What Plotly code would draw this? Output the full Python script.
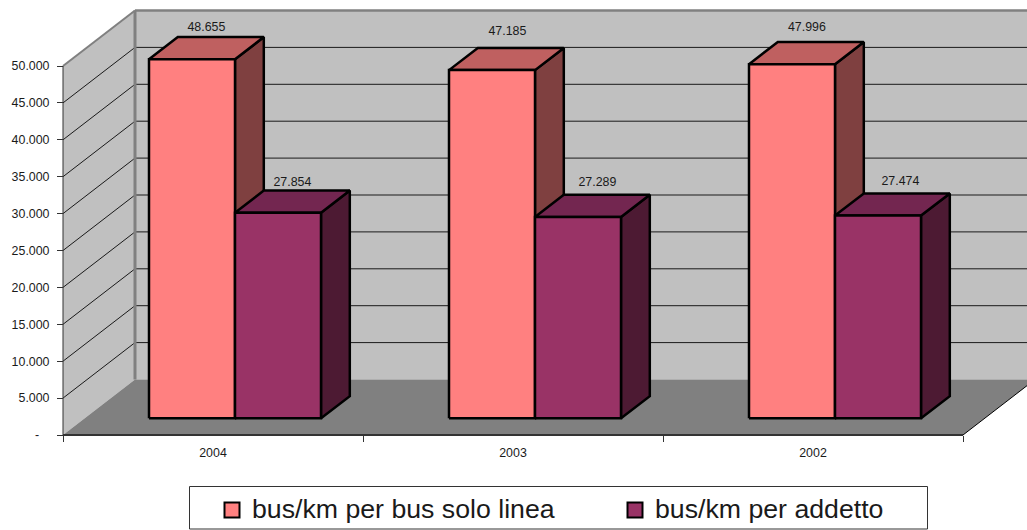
import plotly.graph_objects as go

# Chart values
years = ["2004", "2003", "2002"]
bus_linea = [48655, 47185, 47996]
bus_addetto = [27854, 27289, 27474]
series_names = ["bus/km per bus solo linea", "bus/km per addetto"]
y_ticks = [0, 5000, 10000, 15000, 20000, 25000, 30000, 35000, 40000, 45000, 50000]
y_tick_text = ["-\u00a0\u00a0\u00a0", "5.000", "10.000", "15.000", "20.000", "25.000",
               "30.000", "35.000", "40.000", "45.000", "50.000"]


def it_number(v):
    return f"{v:,}".replace(",", ".")


# Page geometry and the oblique projection used for the pseudo-3D box
W, H = 1027, 530
X0, CAT_PX = 63, 300          # left wall front edge, pixels per category
Y0, PX_PER_UNIT = 435, 0.00738
DX = 72 / CAT_PX              # depth shift in category units
DY = 55.5 / PX_PER_UNIT       # depth shift in value units
BAR_W = 86 / CAT_PX
BAR_OFFSET = 64.4 / CAT_PX
D0, D1 = 0.3, 0.7             # bar extent along the depth axis
LABEL_LIFT = 4                # clearance above the top face, pixels
# Per-label placement tweaks in pixels (right, up), bar by bar
LABEL_NUDGE = [(0, -0.7), (0, -3), (1, 6), (5, 2), (0.5, 4), (8, 1)]
N = len(years)
TOP = y_ticks[-1]

FILLS = [("#FF8080", "#BF6060", "#7F4040"), ("#993366", "#732650", "#4D1A33")]
WALL, FLOOR = "#C0C0C0", "#808080"
EDGE = 2.5


def pt(x, v, d=0.0):
    return x + d * DX, v + d * DY


def poly(points, fill, line_color="rgba(0,0,0,0)", width=0):
    xs, ys = zip(*(points + points[:1]))
    return go.Scatter(x=xs, y=ys, mode="lines", fill="toself", fillcolor=fill,
                      line=dict(color=line_color, width=width), hoverinfo="skip",
                      showlegend=False)


def path(points, color, width):
    xs, ys = zip(*points)
    return go.Scatter(x=xs, y=ys, mode="lines", line=dict(color=color, width=width),
                      hoverinfo="skip", showlegend=False)


fig = go.Figure()

# Walls and floor
fig.add_trace(poly([pt(0, 0, 0), pt(0, 0, 1), pt(0, TOP, 1), pt(0, TOP, 0)], WALL))
fig.add_trace(poly([pt(0, 0, 1), pt(N, 0, 1), pt(N, TOP, 1), pt(0, TOP, 1)], WALL))
fig.add_trace(poly([pt(0, 0, 0), pt(N, 0, 0), pt(N, 0, 1), pt(0, 0, 1)], FLOOR))

# Gridlines on the side and back walls
for v in y_ticks[1:-1]:
    fig.add_trace(path([pt(0, v, 0), pt(0, v, 1), pt(N, v, 1)], "#1a1a1a", 1))

# Wall edges
fig.add_trace(path([pt(0, 0, 1), pt(0, TOP, 1)], "#808080", 3))
fig.add_trace(path([pt(0, TOP, 1), pt(N, TOP, 1)], "#808080", 2.5))
fig.add_trace(path([pt(0, TOP, 0), pt(0, TOP, 1)], "#808080", 2))
fig.add_trace(path([pt(N, 0, 0), pt(N, 0, 1)], "#000000", 1))

# Bars: each one is a side face, a top face and a front face
label_x, label_y, label_text = [], [], []
for i in range(N):
    for s, values in enumerate((bus_linea, bus_addetto)):
        v = values[i]
        x0 = i + BAR_OFFSET + s * BAR_W
        x1 = x0 + BAR_W
        front, top, side = FILLS[s]
        fig.add_trace(poly([pt(x1, 0, D0), pt(x1, 0, D1), pt(x1, v, D1), pt(x1, v, D0)],
                           side, "#000000", EDGE))
        fig.add_trace(poly([pt(x0, v, D0), pt(x1, v, D0), pt(x1, v, D1), pt(x0, v, D1)],
                           top, "#000000", EDGE))
        fig.add_trace(poly([pt(x0, 0, D0), pt(x1, 0, D0), pt(x1, v, D0), pt(x0, v, D0)],
                           front, "#000000", EDGE))
        nudge_x, nudge_y = LABEL_NUDGE[len(label_x)]
        lx, _ = pt((x0 + x1) / 2, v, (D0 + D1) / 2)
        label_x.append(lx + nudge_x / CAT_PX)
        label_y.append(pt(x0, v, D1)[1] + (LABEL_LIFT + nudge_y) / PX_PER_UNIT)
        label_text.append(it_number(v))

fig.add_trace(go.Scatter(x=label_x, y=label_y, text=label_text, mode="text",
                         textposition="top center", hoverinfo="skip", showlegend=False,
                         textfont=dict(family="Liberation Sans", size=12.4, color="#1a1a1a")))

# Axis lines
fig.add_trace(path([(0, 0), (0, TOP)], "#333333", 1))
fig.add_trace(path([(0, 0), (N, 0)], "#333333", 2))

# Legend swatches, one legend per series so each entry can be placed on its own.
# The larger span size keeps the legend row short enough to sit low in its frame.
for name, (front, _, _), legend_id in zip(series_names, FILLS, ("legend", "legend2")):
    fig.add_trace(go.Scatter(x=[None], y=[None], mode="markers",
                             name=f'<span style="font-size:26.7px">{name}</span>',
                             legend=legend_id,
                             marker=dict(symbol="square", size=15, color=front,
                                         line=dict(color="#000000", width=2))))

legend_style = dict(orientation="v", yanchor="bottom", y=1 - 529.5 / H, xanchor="left",
                    bgcolor="rgba(0,0,0,0)", borderwidth=0,
                    itemclick=False, itemdoubleclick=False,
                    font=dict(size=20, color="#1a1a1a"), itemwidth=30)

fig.update_layout(
    width=W, height=H, autosize=False,
    margin=dict(l=0, r=0, t=0, b=0),
    paper_bgcolor="#FFFFFF", plot_bgcolor="#FFFFFF",
    font=dict(family="Liberation Sans", color="#1a1a1a"),
    xaxis=dict(range=[-X0 / CAT_PX, (W - X0) / CAT_PX], anchor="free",
               position=(H - Y0) / H, showgrid=False, zeroline=False, showline=False,
               tickmode="array", tickvals=[i + 0.5 for i in range(N)], ticktext=years,
               ticks="", ticklabelstandoff=9, tickfont=dict(size=12.4),
               minor=dict(tickmode="array", tickvals=list(range(N + 1)), ticks="outside",
                          ticklen=6, tickcolor="#333333", tickwidth=1, showgrid=False)),
    yaxis=dict(range=[(Y0 - H) / PX_PER_UNIT, Y0 / PX_PER_UNIT], anchor="free",
               position=X0 / W, showgrid=False, zeroline=False, showline=False,
               tickmode="array", tickvals=y_ticks, ticktext=y_tick_text,
               ticks="outside", ticklen=6, tickcolor="#333333", tickwidth=1,
               ticklabelstandoff=5, tickfont=dict(size=12.4)),
    shapes=[dict(type="rect", xref="paper", yref="paper", layer="above",
                 x0=189.5 / W, x1=927.5 / W, y0=1 - 529 / H, y1=1 - 486.5 / H,
                 line=dict(color="#333333", width=1), fillcolor="rgba(0,0,0,0)")],
    legend=dict(x=212 / W, **legend_style),
    legend2=dict(x=615 / W, **legend_style),
)

fig.write_html("out.html")
